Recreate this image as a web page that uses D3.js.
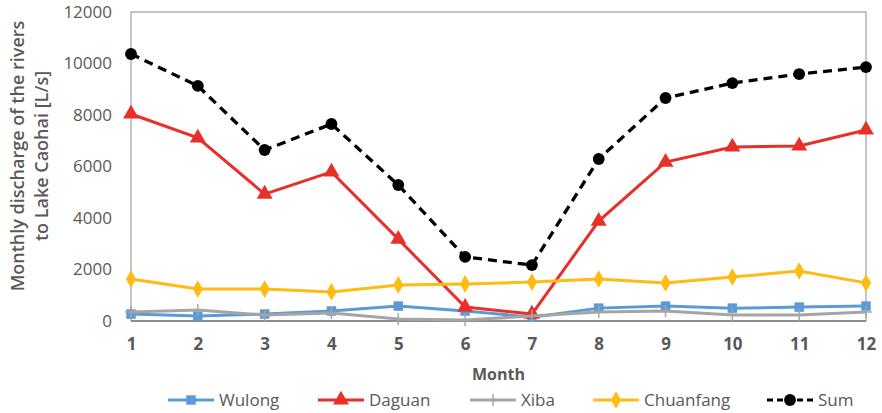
<!DOCTYPE html>
<html>
<head>
<meta charset="utf-8">
<script src="https://cdn.jsdelivr.net/npm/d3@7"></script>
<style>
  body { margin: 0; background: #fff; }
  text { font-family: "Open Sans", "DejaVu Sans", sans-serif; }
</style>
</head>
<body>
<div id="chart"></div>
<script>
const width = 882, height = 413;

// data
const months = [1, 2, 3, 4, 5, 6, 7, 8, 9, 10, 11, 12];
const wulong = [270, 190, 270, 390, 580, 390, 150, 500, 580, 500, 540, 580];
const daguan = [8040, 7110, 4930, 5790, 3180, 540, 270, 3880, 6170, 6760, 6800, 7420];
const xiba = [350, 430, 230, 310, 80, 40, 190, 350, 390, 230, 230, 350];
const chuanfang = [1630, 1240, 1240, 1130, 1400, 1440, 1510, 1630, 1480, 1710, 1940, 1480];
const sum = [10370, 9130, 6640, 7650, 5280, 2490, 2170, 6290, 8660, 9240, 9590, 9860];
const yTicks = [0, 2000, 4000, 6000, 8000, 10000, 12000];

const series = [
	{ name: "Wulong", values: wulong, color: "#5b9bd5", symbol: "square", dash: null },
	{ name: "Daguan", values: daguan, color: "#e8302a", symbol: "triangle", dash: null },
	{ name: "Xiba", values: xiba, color: "#a5a5a5", symbol: "plus", dash: null },
	{ name: "Chuanfang", values: chuanfang, color: "#fdbb13", symbol: "diamond", dash: null },
	{ name: "Sum", values: sum, color: "#000000", symbol: "circle", dash: "9,6" }
];

const margin = { top: 12, right: 16, bottom: 93, left: 131 };

const svg = d3.select("#chart")
	.append("svg")
	.attr("width", width)
	.attr("height", height);

const x = d3.scaleLinear()
	.domain([1, 12])
	.range([margin.left, width - margin.right]);

const y = d3.scaleLinear()
	.domain([0, 12000])
	.range([height - margin.bottom + 1, margin.top]);

// frame
svg.append("rect")
	.attr("x", x(1))
	.attr("y", y(12000))
	.attr("width", x(12) - x(1))
	.attr("height", y(0) - y(12000))
	.attr("fill", "none")
	.attr("stroke", "#8c8c8c")
	.attr("stroke-width", 1);

svg.append("line")
	.attr("x1", x(1)).attr("x2", x(12))
	.attr("y1", y(0)).attr("y2", y(0))
	.attr("stroke", "#7a7a7a")
	.attr("stroke-width", 1.6);

// y axis
const yAxis = svg.append("g")
	.attr("transform", `translate(${x(1)},0)`)
	.call(d3.axisLeft(y).tickValues(yTicks).tickFormat(d3.format("d")).tickSize(0).tickPadding(19));
yAxis.select(".domain").remove();
yAxis.selectAll("text")
	.attr("fill", "#595959")
	.style("font-size", "17px");

// x axis
const xAxis = svg.append("g")
	.attr("transform", `translate(0,${y(0)})`)
	.call(d3.axisBottom(x).tickValues(months).tickFormat(d3.format("d")).tickSize(0).tickPadding(17));
xAxis.select(".domain").remove();
xAxis.selectAll("text")
	.attr("fill", "#595959")
	.style("font-size", "17px")
	.style("font-weight", "bold");

// axis titles
svg.append("text")
	.attr("x", (x(1) + x(12)) / 2)
	.attr("y", 380)
	.attr("text-anchor", "middle")
	.attr("fill", "#595959")
	.style("font-size", "16px")
	.style("font-weight", "bold")
	.text("Month");

const yTitle = svg.append("text")
	.attr("transform", "translate(0,156) rotate(-90)")
	.attr("text-anchor", "middle")
	.attr("fill", "#595959")
	.style("font-size", "18px")
	.style("font-weight", "600");
yTitle.append("tspan").attr("x", 0).attr("y", 24).text("Monthly discharge of the rivers");
yTitle.append("tspan").attr("x", 0).attr("y", 48).text("to Lake Caohai [L/s]");

const symbolType = {
	square: d3.symbolSquare,
	triangle: d3.symbolTriangle,
	diamond: d3.symbolDiamond,
	circle: d3.symbolCircle
};
const symbolSize = { square: 90, triangle: 110, diamond: 90, circle: 110 };

function drawMarker(g, s, px, py) {
	if (s.symbol === "plus") {
		g.append("line")
			.attr("x1", px).attr("x2", px)
			.attr("y1", py - 6).attr("y2", py + 6)
			.attr("stroke", s.color).attr("stroke-width", 1.5);
		g.append("line")
			.attr("x1", px - 6).attr("x2", px + 6)
			.attr("y1", py).attr("y2", py)
			.attr("stroke", s.color).attr("stroke-width", 1.5);
	} else {
		g.append("path")
			.attr("d", d3.symbol().type(symbolType[s.symbol]).size(symbolSize[s.symbol])())
			.attr("transform", `translate(${px},${py})`)
			.attr("fill", s.color);
	}
}

const line = d3.line()
	.x((d, i) => x(months[i]))
	.y(d => y(d));

// draw lines and markers
series.forEach(function(s) {
	const g = svg.append("g").classed("series", true);
	g.append("path")
		.datum(s.values)
		.attr("d", line)
		.attr("fill", "none")
		.attr("stroke", s.color)
		.attr("stroke-width", s.dash ? 3.3 : 3)
		.attr("stroke-dasharray", s.dash);
	s.values.forEach((v, i) => drawMarker(g, s, x(months[i]), y(v)));
});

// legend
const legendX = [168, 318, 470, 593, 767];
const legend = svg.append("g");
series.forEach(function(s, i) {
	const lx = legendX[i], ly = 400;
	legend.append("line")
		.attr("x1", lx).attr("x2", lx + 46)
		.attr("y1", ly).attr("y2", ly)
		.attr("stroke", s.color)
		.attr("stroke-width", 3)
		.attr("stroke-dasharray", s.dash ? "6,4" : null);
	drawMarker(legend, s, lx + 23, ly);
	legend.append("text")
		.attr("x", lx + 51)
		.attr("y", ly)
		.attr("dy", "0.35em")
		.attr("fill", "#595959")
		.style("font-size", "17px")
		.text(s.name);
});
</script>
</body>
</html>
